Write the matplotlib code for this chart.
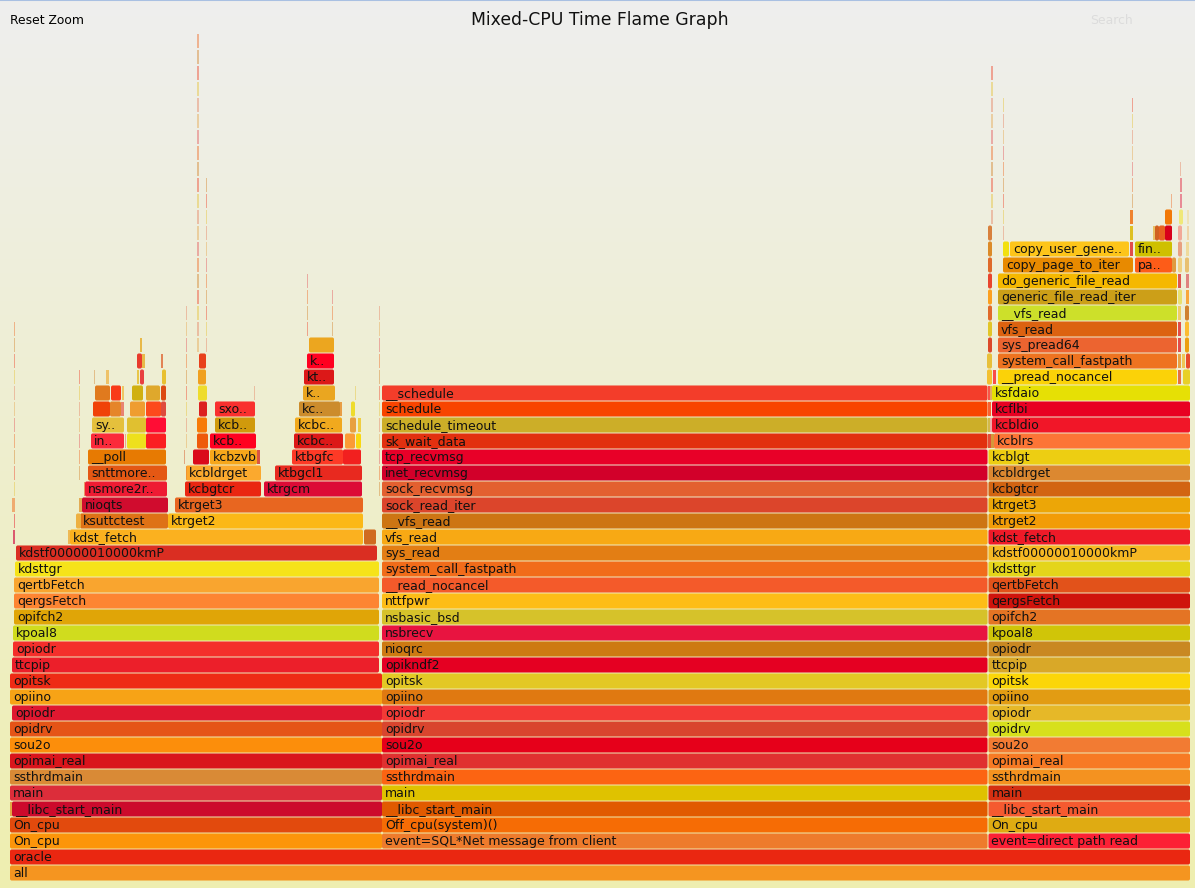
import numpy as np
import matplotlib
matplotlib.use("Agg")
import matplotlib.pyplot as plt
from matplotlib.patches import FancyBboxPatch, Rectangle

# samples are counted from the left edge of the root frame
total_samples = 1180

# columns that run through the whole graph, listed from level 0 upward
root_names = ["all", "oracle"]
root_colors = ["#f59520", "#ea2711"]

left_names = ["On_cpu", "On_cpu", "__libc_start_main", "main", "ssthrdmain", "opimai_real", "sou2o", "opidrv",
              "opiodr", "opiino", "opitsk", "ttcpip", "opiodr", "kpoal8", "opifch2", "qergsFetch", "qertbFetch",
              "kdsttgr", "kdstf00000010000kmP"]
left_first = [0, 0, 2, 0, 0, 0, 0, 0, 2, 0, 0, 2, 3, 3, 4, 4, 4, 5, 6]
left_last = [372, 372, 372, 372, 372, 372, 372, 372, 372, 372, 372, 369, 369, 369, 369, 369, 369, 369, 367]
left_colors = ["#fc950a", "#e24a0d", "#cc0a2c", "#dc2d3a", "#d98a36", "#d9151c", "#fc8e0b", "#e55417",
               "#df1830", "#f7a316", "#ee2b15", "#ec1f2a", "#f42f2b", "#d0dc1e", "#e0a507", "#fd8532", "#f9a52f",
               "#f6e31a", "#da2e22"]

mid_names = ["event=SQL*Net message from client", "Off_cpu(system)()", "__libc_start_main", "main", "ssthrdmain",
             "opimai_real", "sou2o", "opidrv", "opiodr", "opiino", "opitsk", "opikndf2", "nioqrc", "nsbrecv",
             "nsbasic_bsd", "nttfpwr", "__read_nocancel", "system_call_fastpath", "sys_read", "vfs_read",
             "__vfs_read", "sock_read_iter", "sock_recvmsg", "inet_recvmsg", "tcp_recvmsg", "sk_wait_data",
             "schedule_timeout", "schedule", "__schedule"]
mid_colors = ["#ee7b2c", "#f66c05", "#e15a00", "#dfc200", "#fc6412", "#e03030", "#e6001a", "#d9452e", "#f33a36",
              "#e07911", "#e3c825", "#e50022", "#cd7a12", "#e81440", "#d6c22a", "#fdbd17", "#f45a2a", "#f16c1a",
              "#e37e14", "#f8a914", "#cd7513", "#dc452b", "#e36030", "#d2002a", "#e80028", "#e2300f", "#ccae28",
              "#f84400", "#f33d2a"]
mid_first = 372
mid_last = 977.5

right_names = ["event=direct path read", "On_cpu", "__libc_start_main", "main", "ssthrdmain", "opimai_real", "sou2o",
               "opidrv", "opiodr", "opiino", "opitsk", "ttcpip", "opiodr", "kpoal8", "opifch2", "qergsFetch",
               "qertbFetch", "kdsttgr", "kdstf00000010000kmP", "kdst_fetch", "ktrget2", "ktrget3", "kcbgtcr",
               "kcbldrget", "kcblgt", "kcblrs", "kcbldio", "kcflbi", "ksfdaio"]
right_first = [978.5] * 25 + [984, 982, 982, 982]
right_colors = ["#fc2035", "#dfab12", "#f55a30", "#d43012", "#f49220", "#f77a24", "#f27b33", "#d7e01c", "#e6b828",
                "#e29c13", "#fbd608", "#d9a828", "#c98822", "#d0c508", "#e47424", "#cf140c", "#e2521a", "#e4d51a",
                "#f6b824", "#ee1a28", "#f29c07", "#eca607", "#d26412", "#dc8830", "#edce12", "#fc7536", "#f11628",
                "#e80022", "#e6e005"]

# frames above the left column, one source line per level
stack_levels = [21, 21,
                22, 22,
                23, 23,
                24, 24, 24,
                25, 25, 25,
                26, 26, 26, 26, 26, 26,
                27, 27, 27, 27, 27, 27, 27, 27, 27,
                28, 28, 28, 28, 28, 28, 28, 28,
                29, 29, 29, 29, 29, 29, 29, 29, 29, 29,
                30, 30, 30, 30, 30, 30, 30, 30,
                31, 31, 31, 31, 31, 31,
                32, 32, 32, 32, 32,
                33, 33]
stack_first = [60, 354,
               70, 158,
               72, 165,
               75, 175, 254,
               78, 176, 265,
               78, 183, 200, 247, 282, 333,
               81, 115, 117, 136, 187, 200, 284, 335, 346,
               82, 117, 136, 187, 205, 285, 340, 348,
               83, 100, 111, 120, 136, 151, 189, 205, 289, 330,
               85, 101, 112, 122, 136, 151, 188, 293,
               96, 127, 130, 152, 188, 294,
               127, 132, 151, 189, 297,
               130, 299]
stack_last = [353, 366,
              158, 353,
              158, 353,
              157, 251, 352,
              157, 251, 352,
              156, 199, 247, 250, 333, 351,
              114, 116, 136, 156, 198, 246, 333, 345, 351,
              114, 136, 156, 197, 245, 332, 346, 351,
              100, 111, 114, 135, 151, 156, 197, 245, 330, 332,
              100, 111, 114, 133, 150, 156, 197, 325,
              99, 129, 134, 156, 196, 324,
              132, 135, 153, 196, 324,
              132, 324]
stack_names = ["kdst_fetch", "",
               "ksuttctest", "ktrget2",
               "nioqts", "ktrget3",
               "nsmore2r..", "kcbgtcr", "ktrgcm",
               "snttmore..", "kcbldrget", "ktbgcl1",
               "__poll", "", "kcbzvb", "", "ktbgfc", "",
               "in..", "", "", "", "", "kcb..", "kcbc..", "", "",
               "sy..", "", "", "", "kcb..", "kcbc..", "", "",
               "", "", "", "", "", "", "", "sxo..", "kc..", "",
               "", "", "", "", "", "", "", "k..",
               "", "", "", "", "", "kt..",
               "", "", "", "", "k..",
               "", ""]
stack_colors = ["#fbb11f", "#d06a20",
                "#de7216", "#fbb817",
                "#d00c2e", "#e86620",
                "#ee1b33", "#ea2611", "#dc0b36",
                "#e45814", "#fba92e", "#e8291f",
                "#e77a02", "#da0a1b", "#f7a71b", "#d83a2a", "#fd3a26", "#f2201f",
                "#fb2a3a", "#e8604a", "#eee01c", "#fb1e22", "#ee5a0b", "#ff0020", "#dc1818", "#fb9b35", "#f9d810",
                "#e5c03c", "#e0c030", "#ff0d35", "#f77b08", "#d09a0c", "#f1a91e", "#e8a040", "#f0c828",
                "#f04208", "#e5852a", "#e87060", "#ef9d30", "#fd4a1c", "#de4a3e", "#dc2020", "#f9302e", "#cc8c2c", "#e8902c",
                "#e07a1e", "#f93a18", "#eec050", "#d0b010", "#dfa82c", "#dc4a12", "#eedc2c", "#eaa620",
                "#eebb55", "#e8c030", "#e84040", "#e8c030", "#f0a020", "#dc1818",
                "#e83a2c", "#e8b030", "#e07040", "#e8401c", "#ff0020",
                "#e8b030", "#eca61f"]

# frames above the right column, under the read path
read_levels = [31, 32, 33, 34, 35, 36, 37,
               38, 38, 38,
               39, 39, 39, 39,
               40, 40, 40, 40, 40,
               41, 41]
read_first = [988, 988, 988, 988, 988, 988, 988,
              993, 1125, 1162,
              993, 1000, 1120, 1125,
              1120, 1143, 1145, 1149, 1155,
              1120, 1155]
read_last = [1167, 1167, 1167, 1167, 1167, 1167, 1167,
             1123, 1162, 1166,
             999, 1119, 1123, 1162,
             1123, 1145, 1149, 1155, 1162,
             1123, 1162]
read_names = ["__pread_nocancel", "system_call_fastpath", "sys_pread64", "vfs_read", "__vfs_read",
              "generic_file_read_iter", "do_generic_file_read",
              "copy_page_to_iter", "pa..", "",
              "", "copy_user_gene..", "", "fin..",
              "", "", "", "", "",
              "", ""]
read_colors = ["#fbd208", "#ee7320", "#ec6430", "#dc6210", "#cde02a", "#cc9f18", "#f5b800",
               "#e88a00", "#fd5c18", "#e09a40",
               "#f2e010", "#fdc51a", "#e03030", "#cfc000",
               "#dcb800", "#e8b850", "#d06020", "#e86020", "#d8001a",
               "#f07010", "#f27807"]

# narrow slivers beside the big frames
sliver_levels = [40, 39, 38, 37, 36, 35, 34, 33, 32, 31, 31,
                 30, 30, 29, 28, 28, 27, 27, 26, 25, 24, 23, 22, 21, 20, 19, 18, 17, 16,
                 31, 32, 33, 34, 35, 36, 37, 38, 39, 40, 41, 42, 43,
                 32,
                 31, 32, 33, 34, 35, 36, 37, 38, 39, 40, 41,
                 21, 22, 23, 4,
                 21, 22, 23, 24,
                 25, 26, 29]
sliver_first = [978, 978, 978, 978, 978, 978, 978, 978, 977, 977, 983,
                978, 980, 978, 978, 980, 978, 981, 978, 978, 978, 978, 978, 978, 978, 978, 978, 978, 978,
                1168, 1168, 1168, 1168, 1168, 1168, 1168, 1168, 1168, 1168, 1169, 1170, 1170,
                1172,
                1173, 1176, 1175, 1175, 1175, 1176, 1176, 1175, 1176, 1177, 1177,
                3, 3.5, 2, 0,
                58, 66, 69, 74,
                176, 174, 341]
sliver_last = [982, 982, 982, 982, 982, 982, 982, 982, 982, 982, 986,
               980, 982, 981, 980, 982, 981, 984, 978.5, 978.5, 978.5, 978.5, 978.5, 978.5, 978.5, 978.5, 978.5, 978.5, 978.5,
               1171, 1171, 1171, 1171, 1171, 1172, 1171, 1172, 1172, 1172, 1173, 1172, 1172,
               1175,
               1180, 1180, 1179, 1179, 1179, 1179, 1179, 1179, 1179, 1179, 1179,
               5, 5, 5, 2,
               60, 71, 72, 75,
               177, 175, 345]
sliver_colors = ["#d8803c", "#dc8a28", "#df6a2a", "#e8462e", "#fca020", "#e06a2a", "#e2c628", "#dc4a2a", "#e8c03a", "#f3c030", "#fb3030",
                 "#fc3a30", "#e0a050", "#fc4a15", "#ceb030", "#f0a0a0", "#e4301a", "#d08820", "#e6003a", "#d4062c", "#e06a36", "#e0452f",
                 "#cd7519", "#f9a914", "#e37e14", "#f16c1a", "#f45a2a", "#fdbd17", "#d6c22a",
                 "#e45a2a", "#e8952a", "#e03030", "#e03030", "#f0c850", "#e8e070", "#dc3a3a", "#f0d080", "#e8a080", "#f2a898", "#f0e878", "#e87a8a", "#e88088",
                 "#efc040",
                 "#e8d028", "#e84a2a", "#eca010", "#fcbc30", "#d08030", "#fb9a20", "#dd7070", "#e8c070", "#f0d890", "#f0d0a0", "#f0e0b0",
                 "#d84060", "#e82030", "#f0a060", "#e09a30",
                 "#eeb040", "#eeb040", "#e0a040", "#e8b050",
                 "#e88030", "#d86030", "#eedc2c"]

# very thin towers: first sample, lowest level, highest level
spike_first = [3.5, 69, 176, 187.5, 196, 297, 322, 244, 345, 369, 981.5, 993, 1122, 1161, 1170, 74, 84]
spike_low = [24, 25, 27, 33, 33, 34, 34, 30, 30, 24, 41, 40, 42, 42, 44, 24, 31]
spike_high = [34, 31, 35, 52, 43, 37, 36, 30, 30, 35, 50, 48, 48, 42, 44, 24, 31]
spike_palette = ["#e66a6a", "#e8b060", "#e89070", "#e8c84a", "#ef5a40", "#d89040", "#ee7a3a"]

# level of the top edge of the figure
max_level = 54.5625


def draw_frame(ax, first, last, level, color, name=""):
    width = last - first
    if width < 4:
        ax.add_patch(Rectangle((first, level - 0.44), width, 0.88, facecolor=color, edgecolor="none",
                               alpha=0.85 if width >= 2 else 0.5))
    else:
        ax.add_patch(FancyBboxPatch((first, level - 0.47), width, 0.94,
                                    boxstyle="round,pad=0,rounding_size=1.8", mutation_aspect=1 / 16,
                                    facecolor=color, edgecolor="none"))
    if name:
        ax.text(first + 3, level - 0.25, name, fontsize=9.0, color="#111111", va="baseline", ha="left")


plt.rcParams["font.family"] = ["DejaVu Sans"]

fig = plt.figure(figsize=(11.95, 8.88), dpi=100)
ax = fig.add_axes([0, 0, 1, 1])
ax.set_xlim(-10, 1185)
ax.set_ylim(-0.9375, max_level)
ax.axis("off")

# background gradient, top to bottom
shade = np.linspace(0, 1, 256)[:, None]
grad = np.dstack([np.full_like(shade, 0xee), np.full_like(shade, 0xee), 0xee + (0xb0 - 0xee) * shade]) / 255
ax.imshow(grad, extent=[-10, 1185, -0.9375, max_level], aspect="auto", zorder=0, origin="upper")

for i, name in enumerate(root_names):
    draw_frame(ax, 0, total_samples, i, root_colors[i], name)

for i, name in enumerate(left_names):
    draw_frame(ax, left_first[i], left_last[i], i + 2, left_colors[i], name)

for i, name in enumerate(mid_names):
    draw_frame(ax, mid_first, mid_last, i + 2, mid_colors[i], name)

for i, name in enumerate(right_names):
    draw_frame(ax, right_first[i], total_samples, i + 2, right_colors[i], name)

for i, name in enumerate(stack_names):
    draw_frame(ax, stack_first[i], stack_last[i], stack_levels[i], stack_colors[i], name)

for i, name in enumerate(read_names):
    draw_frame(ax, read_first[i], read_last[i], read_levels[i], read_colors[i], name)

for i, level in enumerate(sliver_levels):
    draw_frame(ax, sliver_first[i], sliver_last[i], level, sliver_colors[i])

for i, first in enumerate(spike_first):
    for level in range(spike_low[i], spike_high[i] + 1):
        draw_frame(ax, first, first + 1.2, level, spike_palette[(i + level) % len(spike_palette)])

ax.text(590, 53.33, "Mixed-CPU Time Flame Graph", fontsize=12.4, color="#111111", ha="center", va="center")
ax.text(0, 53.27, "Reset Zoom", fontsize=8.9, color="black", ha="left", va="center")
ax.text(1080, 53.27, "Search", fontsize=8.9, color="#dcdcdc", ha="left", va="center")
ax.axhline(max_level - 0.03, color="#a9c0e2", linewidth=1.5)

fig.savefig("out.png", dpi=100)
